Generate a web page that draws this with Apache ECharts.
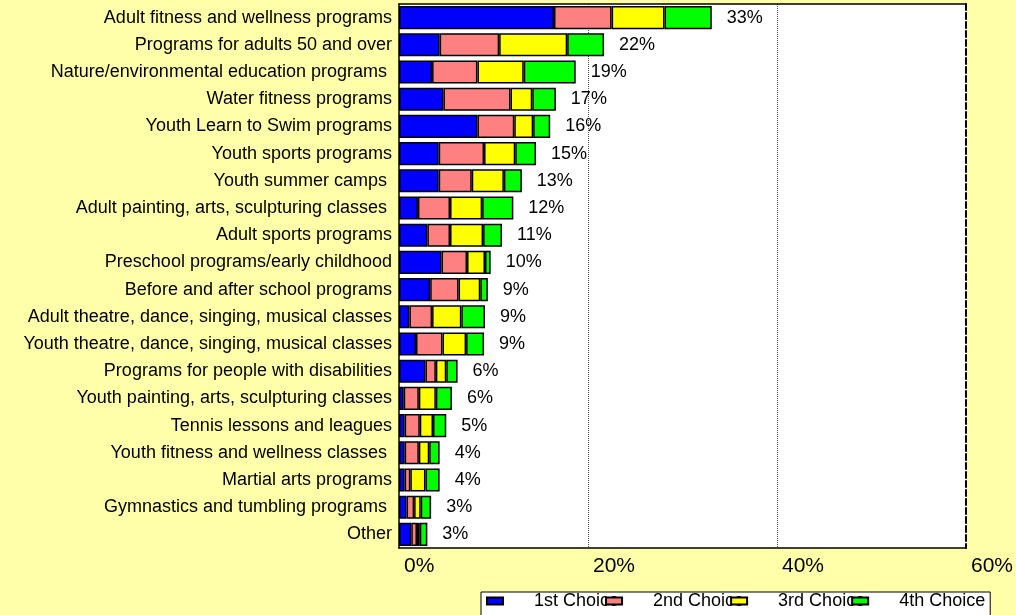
<!DOCTYPE html>
<html>
<head>
<meta charset="utf-8">
<script src="https://cdn.jsdelivr.net/npm/echarts@6/dist/echarts.min.js"></script>
<style>
  html, body { margin: 0; padding: 0; background: #FFFFAA; }
  #chart { width: 1016px; height: 615px; }
</style>
</head>
<body>
<div id="chart"></div>
<script>
const categories = [
  'Adult fitness and wellness programs',
  'Programs for adults 50 and over',
  'Nature/environmental education programs ',
  'Water fitness programs',
  'Youth Learn to Swim programs',
  'Youth sports programs',
  'Youth summer camps ',
  'Adult painting, arts, sculpturing classes ',
  'Adult sports programs',
  'Preschool programs/early childhood',
  'Before and after school programs',
  'Adult theatre, dance, singing, musical classes',
  'Youth theatre, dance, singing, musical classes',
  'Programs for people with disabilities',
  'Youth painting, arts, sculpturing classes',
  'Tennis lessons and leagues',
  'Youth fitness and wellness classes ',
  'Martial arts programs',
  'Gymnastics and tumbling programs ',
  'Other'
]
const seriesNames = ['1st Choice', '2nd Choice', '3rd Choice', '4th Choice']
const first  = [16.4, 4.3, 3.5, 4.7, 8.3, 4.2, 4.2, 2.0, 3.0, 4.5, 3.3, 1.1, 1.8, 2.8, 0.5, 0.6, 0.6, 0.6, 0.8, 1.3]
const second = [6.1, 6.3, 4.8, 7.1, 3.9, 4.8, 3.5, 3.4, 2.4, 2.7, 3.0, 2.4, 2.8, 1.1, 1.6, 1.6, 1.5, 0.6, 0.8, 0.6]
const third  = [5.6, 7.2, 4.9, 2.3, 2.0, 3.3, 3.4, 3.4, 3.5, 1.9, 2.3, 3.1, 2.5, 1.1, 1.8, 1.4, 1.1, 1.6, 0.7, 0.3]
const fourth = [5.0, 3.9, 5.5, 2.5, 1.8, 2.2, 1.9, 3.3, 2.0, 0.6, 0.8, 2.5, 1.9, 1.2, 1.7, 1.4, 1.1, 1.5, 1.1, 0.8]
const totals = [33, 22, 19, 17, 16, 15, 13, 12, 11, 10, 9, 9, 9, 6, 6, 5, 4, 4, 3, 3]
const xTicks = [0, 20, 40, 60]

const colors = ['#0000FF', '#FF8080', '#FFFF00', '#00FF00']
const FONT = "'Liberation Sans', Arial, sans-serif"

const chart = echarts.init(document.getElementById('chart'), null, { renderer: 'canvas' })

const values = [first, second, third, fourth]
const series = values.map((data, i) => ({
  name: seriesNames[i],
  type: 'bar',
  stack: 'total',
  data,
  barCategoryGap: '15%',
  itemStyle: { color: colors[i], borderColor: '#000', borderWidth: 1.5 },
  label: i === 3 ? {
    show: true, position: 'right', distance: 15,
    color: '#000', fontSize: 18, fontFamily: FONT,
    formatter: p => totals[p.dataIndex] + '%'
  } : { show: false }
}))

chart.setOption({
  backgroundColor: '#FFFFAA',
  animation: false,
  textStyle: { fontFamily: FONT },
  grid: { left: 399, right: 50, top: 4, bottom: 67, show: true, backgroundColor: '#fff', borderWidth: 0 },
  legend: {
    data: seriesNames,
    left: 481, top: 592, width: 600,
    backgroundColor: '#fff', borderColor: '#000', borderWidth: 1,
    padding: [0, 5, 12, 5],
    itemWidth: 16, itemHeight: 7, itemGap: -14,
    icon: 'rect',
    textStyle: { color: '#000', fontSize: 18, fontFamily: FONT, padding: [0, 0, 0, 26] }
  },
  xAxis: [{
    type: 'value', min: xTicks[0], max: xTicks[xTicks.length - 1], interval: 20,
    axisLine: { show: true, lineStyle: { color: '#000', width: 1.5 } },
    axisTick: { show: false },
    axisLabel: { formatter: '{value}%', color: '#000', fontSize: 21, fontFamily: FONT, align: 'left', padding: [0, 0, 0, 5], margin: 8 },
    splitLine: { show: true, showMinLine: false, showMaxLine: false, lineStyle: { color: '#555', type: 'dotted', width: 1 } }
  }, {
    type: 'value', min: 0, max: 60, position: 'top',
    axisLine: { show: true, lineStyle: { color: '#000', width: 1.5 } },
    axisTick: { show: false }, axisLabel: { show: false }, splitLine: { show: false }
  }],
  yAxis: [{
    type: 'category', data: categories, inverse: true,
    axisLine: { show: true, lineStyle: { color: '#000', width: 1.5 } },
    axisTick: { show: false },
    axisLabel: { color: '#000', fontSize: 18, fontFamily: FONT, margin: 7 }
  }, {
    type: 'category', data: categories, inverse: true, position: 'right',
    axisLine: { show: true, onZero: false, lineStyle: { color: '#000', width: 2, type: [6, 3] } },
    axisTick: { show: false }, axisLabel: { show: false }
  }],
  series
})
</script>
</body>
</html>
